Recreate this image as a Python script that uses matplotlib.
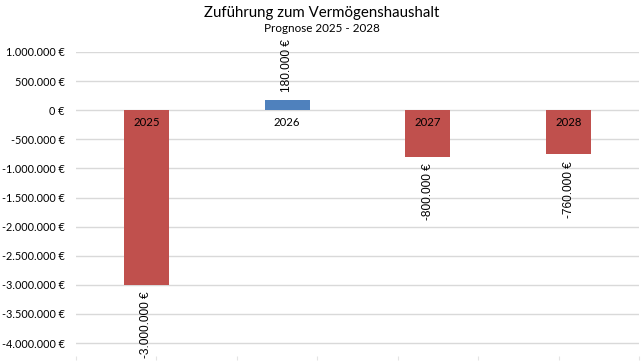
import numpy as np
import matplotlib
matplotlib.use("Agg")
from matplotlib import pyplot as plt
from matplotlib.ticker import FuncFormatter

# Daten
jahre = ["2025", "2026", "2027", "2028"]
werte = [-3000000, 180000, -800000, -760000]
y_ticks = [1000000, 500000, 0, -500000, -1000000, -1500000, -2000000,
           -2500000, -3000000, -3500000, -4000000]

ROT = '#C0504D'
BLAU = '#4F81BD'
SCHMAL = ['Lato', 'DejaVu Sans']
ARIAL = ['Liberation Sans', 'DejaVu Sans']


def eur(v, pos=None):
    s = f"{int(v):,}".replace(",", ".")
    return f"{s} €"


fig = plt.figure(figsize=(6.43, 3.61), dpi=100)
ax = fig.add_axes([0.118, 0.003, 0.876, 0.853])

x = np.arange(len(jahre))
farben = [BLAU if v > 0 else ROT for v in werte]
ax.bar(x, werte, width=0.32, color=farben, zorder=3)

ax.set_xlim(-0.5, len(jahre) - 0.5)
ax.set_ylim(-4290000, 1000000)
ax.set_yticks(y_ticks)
ax.yaxis.set_major_formatter(FuncFormatter(eur))
ax.tick_params(axis='y', length=0, labelsize=7.8, pad=8)
for lab in ax.get_yticklabels():
    lab.set_family(SCHMAL)

ax.set_xticks(np.linspace(-0.5, len(jahre) - 0.5, 8))
ax.set_xticklabels([])
ax.tick_params(axis='x', length=3, color='#e4e4e4', direction='in')

ax.grid(axis='y', color='#d9d9d9', linewidth=1, zorder=0)
for s in ax.spines.values():
    s.set_visible(False)

# Kategorien an der Nulllinie
for xi, j in zip(x, jahre):
    ax.text(xi, -120000, j, ha='center', va='top', fontsize=8.2,
            family=SCHMAL, color='#000000', zorder=4)

# Datenbeschriftungen
for xi, v in zip(x, werte):
    if v > 0:
        ax.text(xi, v + 140000, eur(v), rotation=90, ha='center', va='bottom',
                fontsize=8.6, family=ARIAL, clip_on=False)
    else:
        ax.text(xi, v - 110000, eur(v), rotation=90, ha='center', va='top',
                fontsize=8.6, family=ARIAL, clip_on=False)

fig.text(0.5, 0.963, "Zuführung zum Vermögenshaushalt", ha='center', va='center',
         fontsize=10.8, family=SCHMAL)
fig.text(0.5, 0.921, "Prognose 2025 - 2028", ha='center', va='center',
         fontsize=8.4, family=SCHMAL)

fig.savefig("out.png", dpi=100)
